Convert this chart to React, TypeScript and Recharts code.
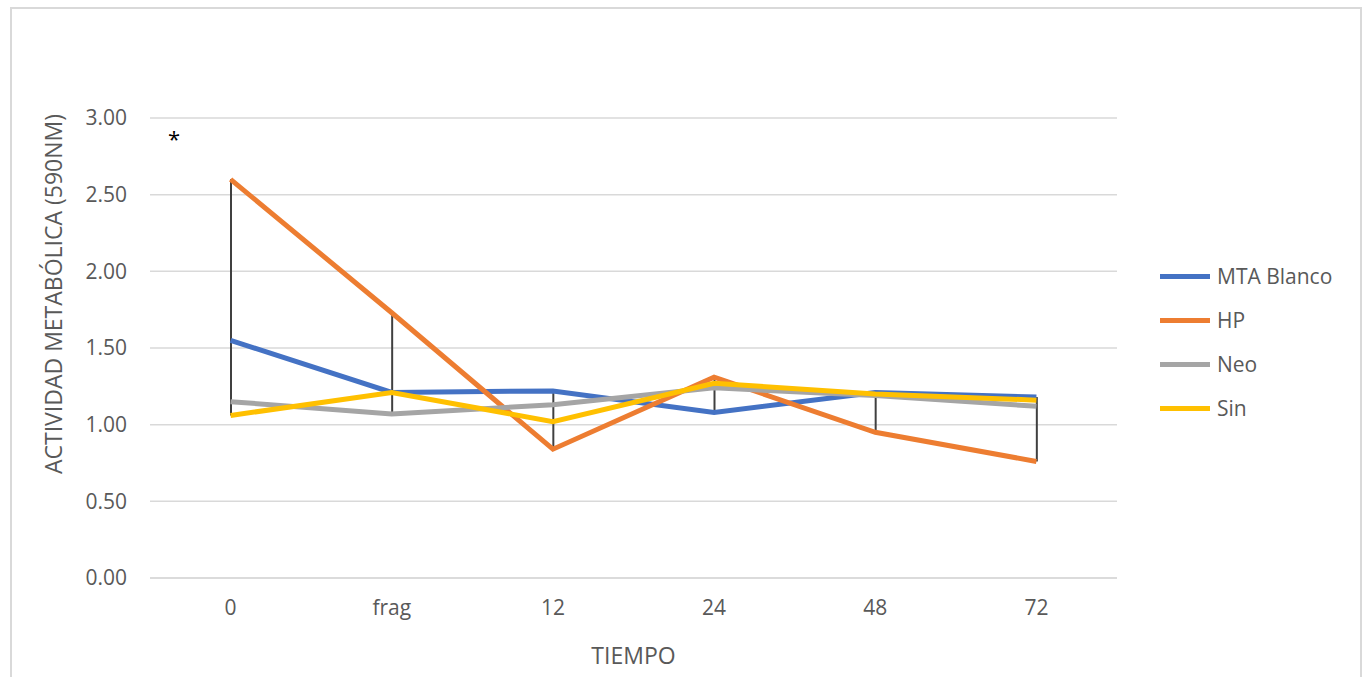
import { Bar, CartesianGrid, ComposedChart, Label, Line, XAxis, YAxis } from 'recharts'

const TIEMPOS = ['0', 'frag', '12', '24', '48', '72']
const MTA_BLANCO = [1.55, 1.21, 1.22, 1.08, 1.21, 1.18]
const HP = [2.6, 1.73, 0.84, 1.31, 0.95, 0.76]
const NEO = [1.15, 1.07, 1.13, 1.24, 1.19, 1.12]
const SIN = [1.06, 1.21, 1.02, 1.27, 1.2, 1.16]
const Y_TICKS = [0, 0.5, 1, 1.5, 2, 2.5, 3]

const SERIES = [
  { key: 'mta', name: 'MTA Blanco', values: MTA_BLANCO, color: '#4472C4' },
  { key: 'hp', name: 'HP', values: HP, color: '#ED7D31' },
  { key: 'neo', name: 'Neo', values: NEO, color: '#A5A5A5' },
  { key: 'sin', name: 'Sin', values: SIN, color: '#FFC000' },
]

const FONT = '"Open Sans", sans-serif'
const TEXT = '#595959'

const data = TIEMPOS.map((t, i) => {
  const row: Record<string, any> = { tiempo: t }
  const vals = SERIES.map((s) => s.values[i])
  SERIES.forEach((s) => (row[s.key] = s.values[i]))
  // linea alto-bajo entre series
  row.rango = [Math.min(...vals), Math.max(...vals)]
  return row
})

const YLabel = () => (
  <text
    x={53}
    y={294}
    transform="rotate(-90 53 294)"
    textAnchor="middle"
    dominantBaseline="central"
    fill={TEXT}
    fontSize={23}
    fontFamily={FONT}
  >
    ACTIVIDAD METABÓLICA (590NM)
  </text>
)

export default function App() {
  return (
    <div style={{ position: 'absolute', left: 0, top: 0, width: 1364, height: 677, overflow: 'hidden', background: '#fff' }}>
      <div
        style={{
          position: 'absolute',
          left: 10,
          top: 7,
          width: 1348,
          height: 700,
          border: '2px solid #d9d9d9',
        }}
      />
      <div style={{ position: 'absolute', left: 0, top: 0 }}>
        <ComposedChart
          width={1364}
          height={677}
          data={data}
          margin={{ top: 118, right: 247, bottom: 0, left: 0 }}
        >
          <CartesianGrid vertical={false} stroke="#d9d9d9" strokeWidth={1.5} />
          <XAxis
            dataKey="tiempo"
            height={99}
            tickLine={false}
            tickSize={0}
            tickMargin={22}
            axisLine={{ stroke: '#d9d9d9', strokeWidth: 1.5 }}
            tick={{ fill: TEXT, fontSize: 21, fontFamily: FONT }}
          >
            <Label value="TIEMPO" position="insideBottom" offset={13} fill={TEXT} fontSize={23} fontFamily={FONT} />
          </XAxis>
          <YAxis
            width={150}
            domain={[0, 3]}
            ticks={Y_TICKS}
            tickFormatter={(v: number) => v.toFixed(2)}
            axisLine={false}
            tickLine={false}
            tickSize={0}
            tickMargin={23}
            tick={{ fill: TEXT, fontSize: 21, fontFamily: FONT }}
          >
            <Label content={YLabel} />
          </YAxis>
          {SERIES.map((s) => (
            <Line
              key={s.key}
              type="linear"
              dataKey={s.key}
              name={s.name}
              stroke={s.color}
              strokeWidth={5}
              dot={false}
              activeDot={false}
              isAnimationActive={false}
            />
          ))}
          <Bar dataKey="rango" barSize={2} fill="#404040" legendType="none" isAnimationActive={false} />
        </ComposedChart>
      </div>
      <div style={{ position: 'absolute', left: 168, top: 123, fontSize: 22, fontFamily: FONT, color: '#000' }}>*</div>
      <div style={{ position: 'absolute', left: 1160, top: 254, fontFamily: FONT, fontSize: 21, color: TEXT }}>
        {SERIES.map((s) => (
          <div key={s.key} style={{ display: 'flex', alignItems: 'center', height: 44 }}>
            <span style={{ display: 'inline-block', width: 50, height: 5, background: s.color, marginRight: 7 }} />
            <span>{s.name}</span>
          </div>
        ))}
      </div>
    </div>
  )
}
